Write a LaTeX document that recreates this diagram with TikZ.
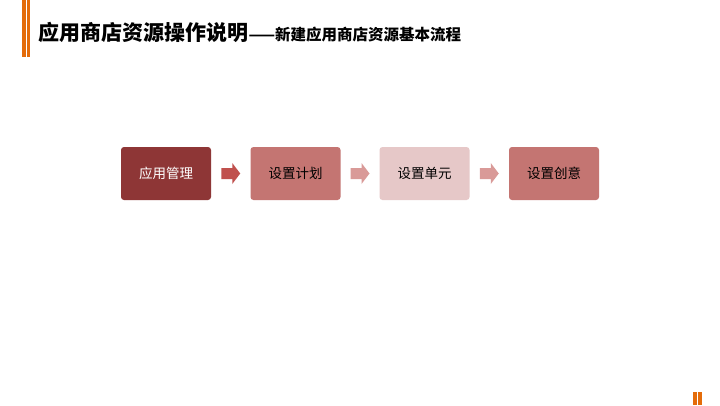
\documentclass[tikz,border=0pt]{standalone}
\usepackage{fontspec}
\newfontfamily\cjk{Noto Sans CJK SC}
\definecolor{orbar}{HTML}{E46C0A}
\definecolor{boxA}{HTML}{8E3636}
\definecolor{boxB}{HTML}{C47572}
\definecolor{boxC}{HTML}{E6C8C8}
\definecolor{arrA}{HTML}{C0504D}
\definecolor{arrB}{HTML}{D99A98}
\usetikzlibrary{calc}
\tikzset{
  stepbox/.style={rounded corners=3pt, minimum width=90pt, minimum height=53pt, inner sep=0pt, font=\cjk\fontsize{13.5}{15}\selectfont},
}
\newcommand{\myflowarrow}[2]{%
  \fill[#2] ($(#1)+(-9.5,-5.5)$) -- ($(#1)+(1.5,-5.5)$) -- ($(#1)+(1.5,-10.5)$) -- ($(#1)+(9.5,0)$) -- ($(#1)+(1.5,10.5)$) -- ($(#1)+(1.5,5.5)$) -- ($(#1)+(-9.5,5.5)$) -- cycle;}
\begin{document}
\begin{tikzpicture}[x=1pt,y=-1pt]
\useasboundingbox (0,0) rectangle (720,405);
\fill[white] (0,0) rectangle (720,405);
% top-left bars
\fill[orbar] (22,0) rectangle (26,57);
\fill[orbar] (27,0) rectangle (30,57);
% title
\node[anchor=base west, inner sep=0pt, font=\cjk\bfseries\fontsize{21}{24}\selectfont] (t1) at (38,40) {应用商店资源操作说明};
\node[anchor=base west, inner sep=0pt, font=\cjk\bfseries\fontsize{15.5}{18}\selectfont] (t2) at (t1.base east) {——新建应用商店资源基本流程};
% boxes
\node[stepbox, fill=boxA, text=white] (b1) at (166,173.5) {应用管理};
\node[stepbox, fill=boxB, text=black] (b2) at (295.5,173.5) {设置计划};
\node[stepbox, fill=boxC, text=black] (b3) at (424.5,173.5) {设置单元};
\node[stepbox, fill=boxB, text=black] (b4) at (554,173.5) {设置创意};
% arrows
\coordinate (a1) at ($(b1.east)!0.5!(b2.west)$);
\coordinate (a2) at ($(b2.east)!0.5!(b3.west)$);
\coordinate (a3) at ($(b3.east)!0.5!(b4.west)$);
\myflowarrow{a1}{arrA}
\myflowarrow{a2}{arrB}
\myflowarrow{a3}{arrB}
% bottom-right bars
\fill[orbar] (693,392) rectangle (696.5,405);
\fill[orbar] (698,392) rectangle (701.5,405);
\end{tikzpicture}
\end{document}
